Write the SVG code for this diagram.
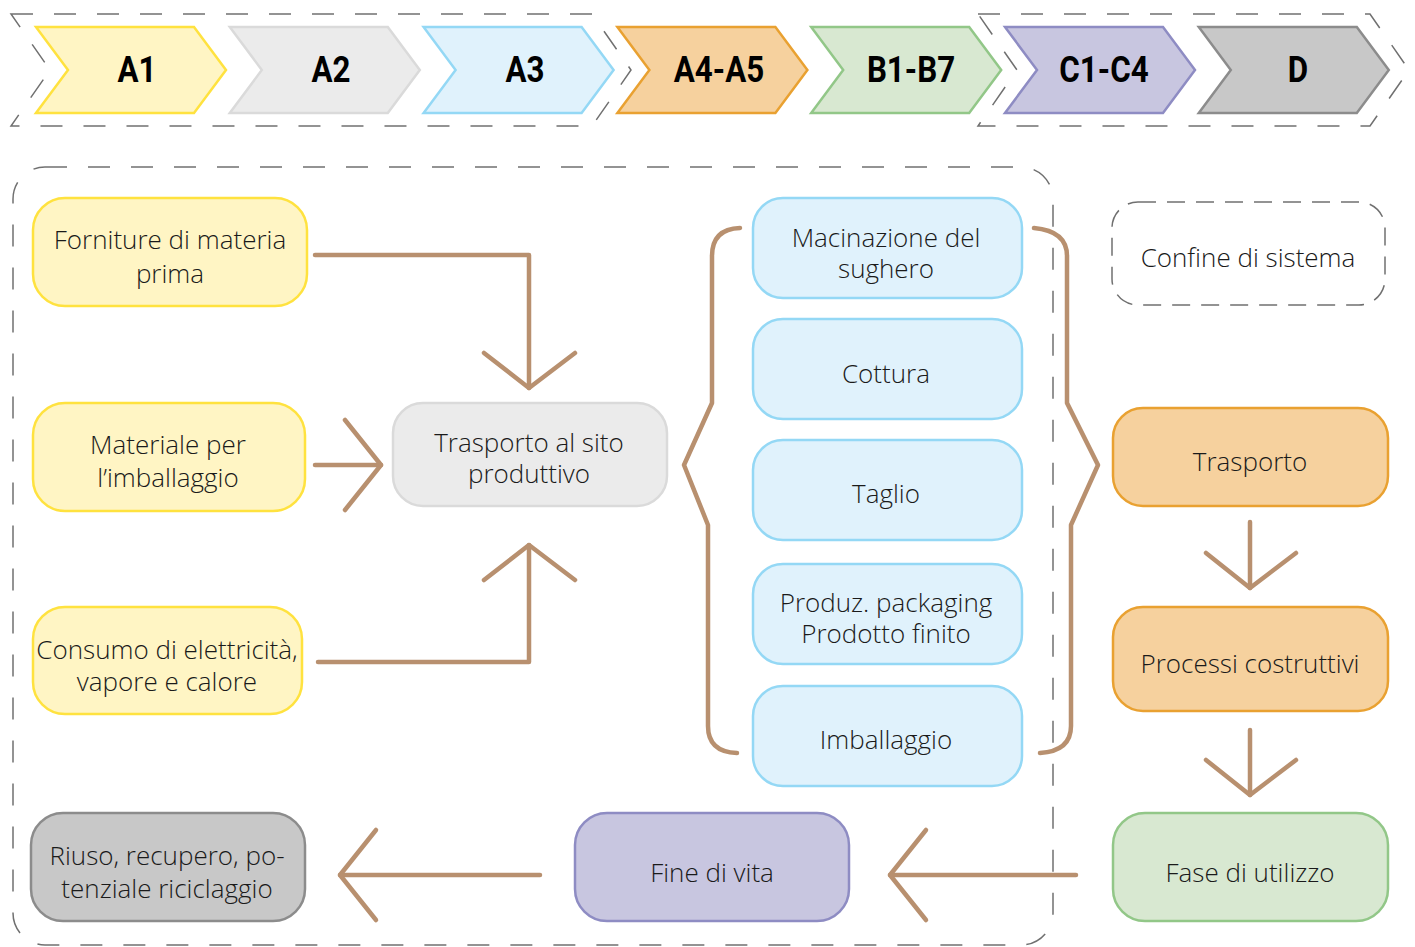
<svg xmlns="http://www.w3.org/2000/svg" width="1415" height="947" viewBox="0 0 1415 947">
<style>
.bnd{fill:none;stroke:#707070;stroke-width:1.5;stroke-dasharray:22 21}
.bnd2{fill:none;stroke:#707070;stroke-width:1.5;stroke-dasharray:18 11}
.chev{stroke-width:2.5;stroke-linejoin:miter}
.ct{font-family:Roboto,"Open Sans",sans-serif;font-weight:700;font-size:36px;fill:#000;text-anchor:middle}
.box{stroke-width:2.5}
.t{font-family:"Open Sans","Noto Sans",sans-serif;font-weight:300;font-size:26px;fill:#1a1a1a;text-anchor:middle}
.yel{fill:#FFF5C4;stroke:#FFE23F}
.gry{fill:#EBEBEB;stroke:#DADADA}
.blu{fill:#E0F2FC;stroke:#94D8F5}
.org{fill:#F6D19E;stroke:#E9A131}
.grn{fill:#D8E8D1;stroke:#92C788}
.pur{fill:#C8C6E0;stroke:#8E8CC3}
.dgr{fill:#C8C8C8;stroke:#8C8C8C}
.c{fill:none;stroke:#B8906F;stroke-width:4.5;stroke-linecap:round;stroke-linejoin:round}
</style>

<g id="phases">
<path class="bnd" d="M11,14 L592,14 L631,70 L592,126 L11,126 L50,70 Z"/>
<path class="bnd" d="M978,14 L1370,14 L1409,70 L1370,126 L978,126 L1017,70 Z"/>
<g id="A1"><polygon class="chev yel" points="36,27 194,27 226,70 194,113 36,113 68,70"/><text class="ct" transform="translate(137,82) scale(0.87,1)">A1</text></g>
<g id="A2"><polygon class="chev gry" points="229.8,27 387.8,27 419.8,70 387.8,113 229.8,113 261.8,70"/><text class="ct" transform="translate(331,82) scale(0.87,1)">A2</text></g>
<g id="A3"><polygon class="chev blu" points="423.6,27 581.6,27 613.6,70 581.6,113 423.6,113 455.6,70"/><text class="ct" transform="translate(525,82) scale(0.87,1)">A3</text></g>
<g id="A4A5"><polygon class="chev org" points="617.4,27 775.4,27 807.4,70 775.4,113 617.4,113 649.4,70"/><text class="ct" transform="translate(719,82) scale(0.87,1)">A4-A5</text></g>
<g id="B1B7"><polygon class="chev grn" points="811.2,27 969.2,27 1001.2,70 969.2,113 811.2,113 843.2,70"/><text class="ct" transform="translate(911,82) scale(0.87,1)">B1-B7</text></g>
<g id="C1C4"><polygon class="chev pur" points="1005,27 1163,27 1195,70 1163,113 1005,113 1037,70"/><text class="ct" transform="translate(1104,82) scale(0.87,1)">C1-C4</text></g>
<g id="D"><polygon class="chev dgr" points="1198.8,27 1356.8,27 1388.8,70 1356.8,113 1198.8,113 1230.8,70"/><text class="ct" transform="translate(1298,82) scale(0.87,1)">D</text></g>
</g>

<g id="system-boundary">
<rect class="bnd" x="13" y="167" width="1040" height="778" rx="32"/>
</g>

<g id="legend">
<rect class="bnd2" x="1112" y="202" width="273" height="103" rx="26"/>
<text class="t" x="1248" y="267">Confine di sistema</text>
</g>

<g id="connectors">
<polyline class="c" points="315,255 529,255 529,388"/>
<polyline class="c" points="484,353 529,388 575,353"/>
<line class="c" x1="315" y1="465" x2="381" y2="465"/>
<polyline class="c" points="345,420 381,465 345,510"/>
<polyline class="c" points="318,662 529,662 529,545"/>
<polyline class="c" points="484,580 529,545 575,580"/>
<path class="c" d="M740,228 Q712,229 712,256 L712,403 L684,465 L708,525 L708,726 Q708,752 737,753"/>
<path class="c" d="M1034,228 Q1067,231 1067,256 L1067,403 L1098,465 L1071,525 L1071,726 Q1071,751 1040,753"/>
<line class="c" x1="1250" y1="522" x2="1250" y2="588"/>
<polyline class="c" points="1206,553 1250,588 1296,553"/>
<line class="c" x1="1250" y1="730" x2="1250" y2="795"/>
<polyline class="c" points="1206,760 1250,795 1296,760"/>
<line class="c" x1="1076" y1="875" x2="890" y2="875"/>
<polyline class="c" points="926,830 890,875 926,920"/>
<line class="c" x1="540" y1="875" x2="340" y2="875"/>
<polyline class="c" points="376,830 340,875 376,920"/>
</g>

<g id="forniture"><rect class="box yel" x="33" y="198" width="274" height="108" rx="32"/><text class="t" x="170" y="249">Forniture di materia</text><text class="t" x="170" y="283">prima</text></g>
<g id="materiale"><rect class="box yel" x="33" y="403" width="272" height="108" rx="32"/><text class="t" x="168" y="454">Materiale per</text><text class="t" x="168" y="487">l’imballaggio</text></g>
<g id="consumo"><rect class="box yel" x="33" y="607" width="269" height="107" rx="32"/><text class="t" x="167" y="659">Consumo di elettricità,</text><text class="t" x="167" y="691">vapore e calore</text></g>
<g id="trasporto-sito"><rect class="box gry" x="393" y="403" width="274" height="103" rx="30"/><text class="t" x="529" y="452">Trasporto al sito</text><text class="t" x="529" y="483">produttivo</text></g>
<g id="macinazione"><rect class="box blu" x="753" y="198" width="269" height="100" rx="30"/><text class="t" x="886" y="247">Macinazione del</text><text class="t" x="886" y="278">sughero</text></g>
<g id="cottura"><rect class="box blu" x="753" y="319" width="269" height="100" rx="30"/><text class="t" x="886" y="383">Cottura</text></g>
<g id="taglio"><rect class="box blu" x="753" y="440" width="269" height="100" rx="30"/><text class="t" x="886" y="503">Taglio</text></g>
<g id="produz"><rect class="box blu" x="753" y="564" width="269" height="100" rx="30"/><text class="t" x="886" y="612">Produz. packaging</text><text class="t" x="886" y="643">Prodotto finito</text></g>
<g id="imballaggio"><rect class="box blu" x="753" y="686" width="269" height="100" rx="30"/><text class="t" x="886" y="749">Imballaggio</text></g>
<g id="riuso"><rect class="box dgr" x="31" y="813" width="274" height="108" rx="32"/><text class="t" x="167" y="865">Riuso, recupero, po-</text><text class="t" x="167" y="898">tenziale riciclaggio</text></g>
<g id="fine-vita"><rect class="box pur" x="575" y="813" width="274" height="108" rx="32"/><text class="t" x="712" y="882">Fine di vita</text></g>
<g id="trasporto"><rect class="box org" x="1113" y="408" width="275" height="98" rx="30"/><text class="t" x="1250" y="471">Trasporto</text></g>
<g id="processi"><rect class="box org" x="1113" y="607" width="275" height="104" rx="30"/><text class="t" x="1250" y="673">Processi costruttivi</text></g>
<g id="fase-utilizzo"><rect class="box grn" x="1113" y="813" width="275" height="108" rx="32"/><text class="t" x="1250" y="882">Fase di utilizzo</text></g>
</svg>
